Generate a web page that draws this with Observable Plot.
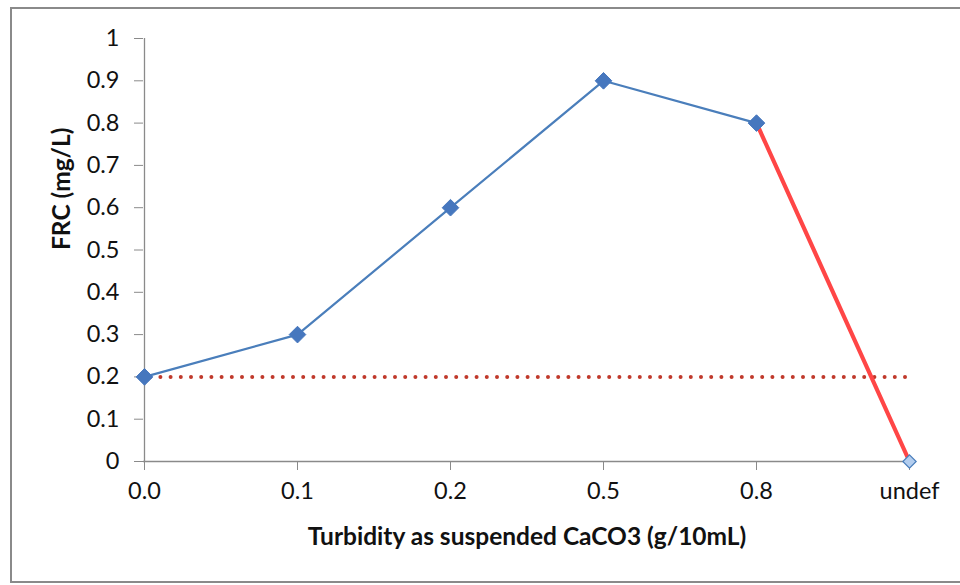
<!DOCTYPE html>
<html>
<head>
<meta charset="utf-8">
<script src="https://cdn.jsdelivr.net/npm/d3@7"></script>
<script src="https://cdn.jsdelivr.net/npm/@observablehq/plot@0.6"></script>
<style>
  html, body { margin: 0; padding: 0; background: #fff; }
  #wrap { position: relative; width: 960px; height: 585px; overflow: hidden; }
  #border { position: absolute; left: 10px; top: 7px; width: 970px; height: 576px;
            border: 2px solid #8a8a8a; box-sizing: border-box; pointer-events: none; }
  svg { font-family: Lato, "Open Sans", sans-serif; }
</style>
</head>
<body>
<div id="wrap"><div id="border"></div></div>
<script>
const categories = ["0.0", "0.1", "0.2", "0.5", "0.8", "undef"];
const frc = [0.2, 0.3, 0.6, 0.9, 0.8, 0];
const thresholdValue = 0.2;
const yTicks = [0, 0.1, 0.2, 0.3, 0.4, 0.5, 0.6, 0.7, 0.8, 0.9, 1];
const xTitle = "Turbidity as suspended CaCO3 (g/10mL)";
const yTitle = "FRC (mg/L)";

const points = categories.map((c, i) => ({cat: c, frc: frc[i]}));
const bluePart = points.slice(0, 5);
const redPart = points.slice(4);
const lastPoint = points.slice(5);
const threshold = [{y: thresholdValue, from: categories[0], to: categories[categories.length - 1]}];

const chart = Plot.plot({
  width: 960,
  height: 585,
  marginLeft: 143,
  marginRight: 50,
  marginTop: 38,
  marginBottom: 124,
  style: {fontFamily: "Lato, 'Open Sans', sans-serif", background: "transparent"},
  x: {type: "point", domain: categories, padding: 0},
  y: {domain: [0, 1]},
  marks: [
    Plot.axisY({ticks: yTicks, tickSize: 9, tickPadding: 15, fontSize: 23.5, stroke: "#8a8a8a",
                color: "#111", tickFormat: d => String(+d.toFixed(1)), label: null}),
    Plot.axisX({tickSize: 9, tickPadding: 12, fontSize: 23.5, stroke: "#8a8a8a", color: "#111", label: null}),
    Plot.ruleX([categories[0]], {stroke: "#8a8a8a", strokeWidth: 1.3}),
    Plot.ruleY([0], {stroke: "#8a8a8a", strokeWidth: 1.3}),
    Plot.ruleY(threshold, {y: "y", x1: "from", x2: "to", dx: -4, stroke: "#c0392b",
                strokeWidth: 4, strokeDasharray: "0 10.2", strokeLinecap: "round"}),
    Plot.line(bluePart, {x: "cat", y: "frc", stroke: "#4a7ebb", strokeWidth: 2.2}),
    Plot.line(redPart, {x: "cat", y: "frc", stroke: "#ff4646", strokeWidth: 4.2}),
    Plot.dot(bluePart, {x: "cat", y: "frc", symbol: "diamond2", r: 7.5, fill: "#4677be", stroke: "#4677be", strokeWidth: 1}),
    Plot.dot(lastPoint, {x: "cat", y: "frc", symbol: "diamond2", r: 6, fill: "#b3cdee", stroke: "#4a7ebb", strokeWidth: 1.2}),
    Plot.text([xTitle], {frameAnchor: "bottom", dy: 83, text: d => d, fontSize: 24.5, fontWeight: "bold", fill: "#111"}),
    Plot.text([yTitle], {frameAnchor: "left", dx: -81, rotate: -90, text: d => d, fontSize: 24.5, fontWeight: "bold", fill: "#111"})
  ]
});
document.getElementById("wrap").prepend(chart);
</script>
</body>
</html>
